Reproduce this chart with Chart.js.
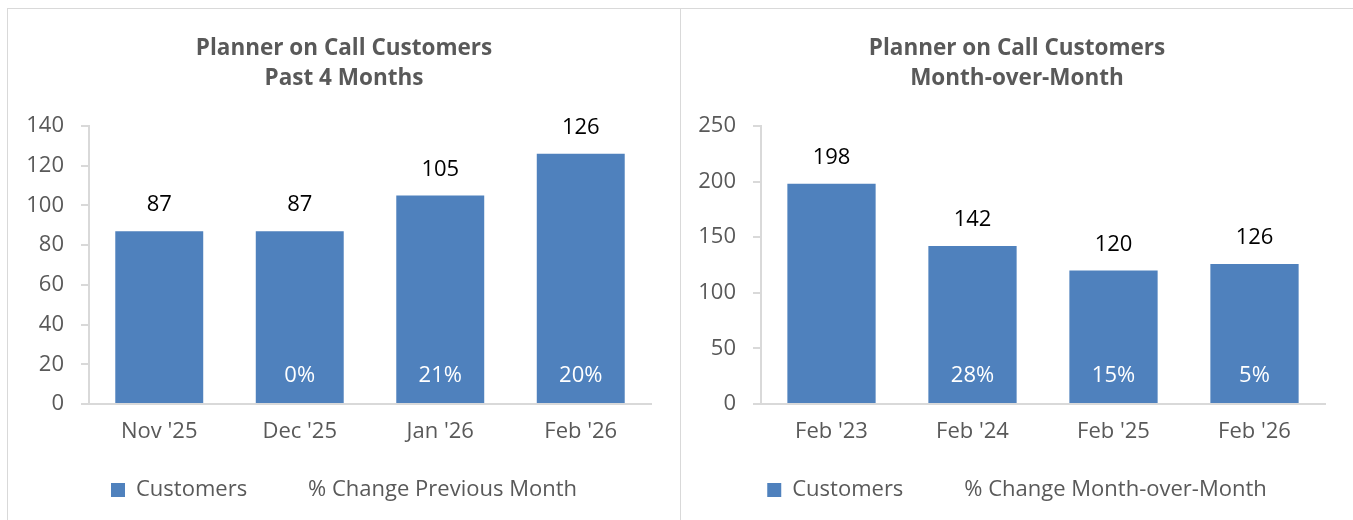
<!DOCTYPE html>
<html>
<head>
<meta charset="utf-8">
<script src="https://cdn.jsdelivr.net/npm/chart.js@4.4.0/dist/chart.umd.min.js"></script>
<style>
  body { margin: 0; background: #fff; width: 1353px; height: 520px; overflow: hidden; position: relative; }
  .box { position: absolute; top: 8px; height: 530px; border: 1px solid #d9d9d9; box-sizing: border-box; }
  #boxLeft { left: 7px; width: 674px; }
  #boxRight { left: 680px; width: 690px; }
  canvas { position: absolute; }
  #leftChart { left: 9px; top: 11px; }
  #rightChart { left: 681px; top: 11px; }
</style>
</head>
<body>
<div class="box" id="boxLeft"></div>
<div class="box" id="boxRight"></div>
<canvas id="leftChart" width="670" height="509"></canvas>
<canvas id="rightChart" width="672" height="509"></canvas>
<script>
const monthLabels = ["Nov '25", "Dec '25", "Jan '26", "Feb '26"];
const monthCustomers = [87, 87, 105, 126];
const monthChange = [null, 0, 21, 20];

const yearLabels = ["Feb '23", "Feb '24", "Feb '25", "Feb '26"];
const yearCustomers = [198, 142, 120, 126];
const yearChange = [null, 28, 15, 5];

const barColor = '#4f81bd';
const textGray = '#595959';
const fontName = "'Open Sans', 'Noto Sans', sans-serif";

// value labels over the bars and % change inside at the base
const barLabels = {
    id: 'barLabels',
    afterDatasetsDraw(chart) {
        const ctx = chart.ctx;
        const bars = chart.getDatasetMeta(0).data;
        const pct = chart.data.datasets[1].data;
        ctx.save();
        ctx.font = '22px ' + fontName;
        ctx.textAlign = 'center';
        ctx.textBaseline = 'middle';
        bars.forEach((bar, i) => {
            ctx.fillStyle = '#000';
            ctx.fillText(chart.data.datasets[0].data[i], bar.x, bar.y - 26);
            if (pct[i] !== null) {
                ctx.fillStyle = '#fff';
                ctx.fillText(pct[i] + '%', bar.x, bar.base - 27);
            }
        });
        ctx.restore();
    }
};

function makeChart(id, title, labels, customers, change, changeName, maxY, step) {
    return new Chart(document.getElementById(id), {
        type: 'bar',
        data: {
            labels: labels,
            datasets: [{
                label: 'Customers',
                data: customers,
                backgroundColor: barColor,
                categoryPercentage: 1,
                barPercentage: 0.626
            }, {
                type: 'line',
                label: changeName,
                data: change,
                showLine: false,
                pointRadius: 0,
                yAxisID: 'y2'
            }]
        },
        options: {
            responsive: false,
            animation: false,
            layout: { padding: { top: 0, bottom: 9, left: 0, right: 0 } },
            plugins: {
                title: {
                    display: true,
                    text: title,
                    color: textGray,
                    font: { family: fontName, size: 22.5, weight: 'bold', lineHeight: 1.333 },
                    padding: { top: 23, bottom: 32 }
                },
                legend: {
                    position: 'bottom',
                    labels: {
                        color: textGray,
                        font: { family: fontName, size: 22 },
                        boxWidth: 14,
                        boxHeight: 14,
                        padding: 36,
                        generateLabels(chart) {
                            return chart.data.datasets.map((ds, i) => ({
                                text: ds.label,
                                fillStyle: i === 0 ? barColor : 'rgba(0,0,0,0)',
                                strokeStyle: 'rgba(0,0,0,0)',
                                lineWidth: 0,
                                fontColor: textGray,
                                datasetIndex: i
                            }));
                        }
                    }
                },
                tooltip: { enabled: false }
            },
            scales: {
                x: {
                    grid: { display: false, drawTicks: false },
                    border: { color: '#d9d9d9', width: 2 },
                    ticks: { color: textGray, font: { family: fontName, size: 22 }, padding: 15 },
                    afterFit(scale) { scale.height = 39; }
                },
                y: {
                    min: 0,
                    max: maxY,
                    grid: { display: true, drawOnChartArea: false, drawTicks: true, tickLength: 8, color: '#d9d9d9', lineWidth: 2 },
                    border: { color: '#d9d9d9', width: 2 },
                    ticks: { stepSize: step, color: textGray, font: { family: fontName, size: 22 }, padding: 17 },
                    afterFit(scale) { scale.width = 80; }
                },
                // empty right axis: keeps the plot off the right edge
                y2: {
                    position: 'right',
                    min: 0,
                    max: 100,
                    grid: { display: false, drawTicks: false },
                    border: { display: false },
                    ticks: { display: false },
                    afterFit(scale) { scale.width = 28; }
                }
            }
        },
        plugins: [barLabels]
    });
}

makeChart('leftChart', ['Planner on Call Customers', 'Past 4 Months'],
    monthLabels, monthCustomers, monthChange, '% Change Previous Month', 140, 20);
makeChart('rightChart', ['Planner on Call Customers', 'Month-over-Month'],
    yearLabels, yearCustomers, yearChange, '% Change Month-over-Month', 250, 50);
</script>
</body>
</html>
